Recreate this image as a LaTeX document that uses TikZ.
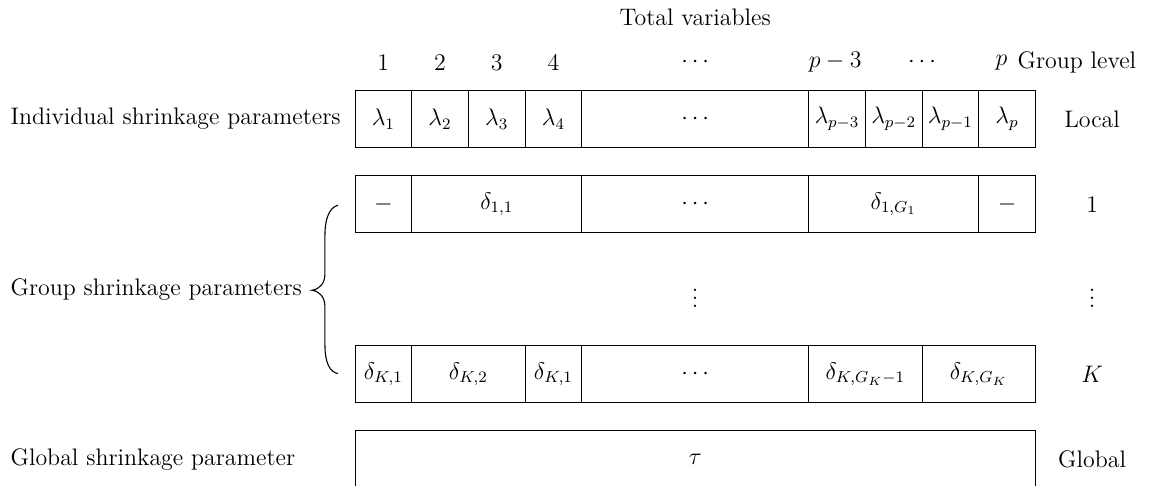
\documentclass[tikz,border=0pt,12pt]{standalone}
\begin{document}
\begin{tikzpicture}[x=1cm,y=1cm,
  cell/.style={draw, line width=0.5pt, minimum height=1cm, inner sep=0pt, anchor=center},
  lab/.style={inner sep=0pt, anchor=center},
  leftlab/.style={inner sep=0pt, anchor=west}]
\useasboundingbox (-6.261,-6.455) rectangle (14.215,2.099);

% header
\node[lab] (tv) at (6,1.8) {Total variables};
\node[lab] (n1) at (0.5,1) {1};
\node[lab] (n2) at (1.5,1) {2};
\node[lab] (n3) at (2.5,1) {3};
\node[lab] (n4) at (3.5,1) {4};
\node[lab] (nd1) at (6,1) {$\cdots$};
\node[lab] (np3) at (8.47,1) {$p-3$};
\node[lab] (nd2) at (10,1) {$\cdots$};
\node[lab] (np) at (11.4,1) {$p$};
\node[leftlab] (gl) at (11.68,1) {Group level};

% row 1: local
\node[cell, minimum width=1cm] (l1) at (0.5,0) {$\lambda_1$};
\node[cell, minimum width=1cm] (l2) at (1.5,0) {$\lambda_2$};
\node[cell, minimum width=1cm] (l3) at (2.5,0) {$\lambda_3$};
\node[cell, minimum width=1cm] (l4) at (3.5,0) {$\lambda_4$};
\node[cell, minimum width=4cm] (ld) at (6,0) {$\cdots$};
\node[cell, minimum width=1cm] (lp3) at (8.5,0) {$\lambda_{p-3}$};
\node[cell, minimum width=1cm] (lp2) at (9.5,0) {$\lambda_{p-2}$};
\node[cell, minimum width=1cm] (lp1) at (10.5,0) {$\lambda_{p-1}$};
\node[cell, minimum width=1cm] (lp) at (11.5,0) {$\lambda_p$};

% row 2: group level 1
\node[cell, minimum width=1cm] (a1) at (0.5,-1.5) {$-$};
\node[cell, minimum width=3cm] (a2) at (2.5,-1.5) {$\delta_{1,1}$};
\node[cell, minimum width=4cm] (a3) at (6,-1.5) {$\cdots$};
\node[cell, minimum width=3cm] (a4) at (9.5,-1.5) {$\delta_{1,G_1}$};
\node[cell, minimum width=1cm] (a5) at (11.5,-1.5) {$-$};

% vdots
\node[lab] (vd) at (6,-3.05) {$\vdots$};

% row K
\node[cell, minimum width=1cm] (k1) at (0.5,-4.5) {$\delta_{K,1}$};
\node[cell, minimum width=2cm] (k2) at (2,-4.5) {$\delta_{K,2}$};
\node[cell, minimum width=1cm] (k3) at (3.5,-4.5) {$\delta_{K,1}$};
\node[cell, minimum width=4cm] (k4) at (6,-4.5) {$\cdots$};
\node[cell, minimum width=2cm] (k5) at (9,-4.5) {$\delta_{K,G_K-1}$};
\node[cell, minimum width=2cm] (k6) at (11,-4.5) {$\delta_{K,G_K}$};

% global
\node[cell, minimum width=12cm] (g) at (6,-6) {$\tau$};

% right labels
\node[lab] (rLocal) at (13,0) {Local};
\node[lab] (r1) at (13,-1.5) {1};
\node[lab] (rvd) at (13,-3.05) {$\vdots$};
\node[lab] (rK) at (13,-4.5) {$K$};
\node[lab] (rG) at (13,-6) {Global};

% left labels
\node[leftlab] (lInd) at (-6.08,0) {Individual shrinkage parameters};
\node[leftlab] (lGrp) at (-6.08,-3.0) {Group shrinkage parameters};
\node[leftlab] (lGlb) at (-6.08,-6) {Global shrinkage parameter};

% brace
\draw[line width=0.55pt] (-0.30,-1.52) .. controls (-0.45,-1.56) and (-0.53,-1.75) .. (-0.53,-2.05)
  -- (-0.53,-2.72) .. controls (-0.53,-2.9) and (-0.62,-3.0) .. (-0.76,-3.02)
  .. controls (-0.62,-3.04) and (-0.53,-3.14) .. (-0.53,-3.32)
  -- (-0.53,-3.99) .. controls (-0.53,-4.29) and (-0.45,-4.46) .. (-0.30,-4.49);
\end{tikzpicture}
\end{document}
